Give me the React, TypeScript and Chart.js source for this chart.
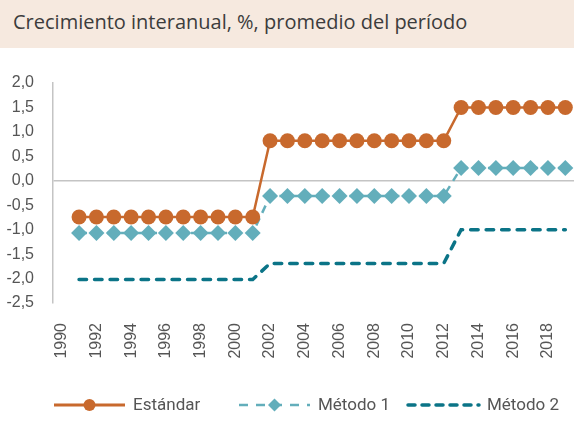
import React, { useEffect, useRef } from "react";
import { Chart, registerables } from "chart.js";

Chart.register(...registerables);

const years: string[] = [];
for (let y = 1990; y <= 2019; y++) years.push(String(y));

const estandar: (number | null)[] = [
  null,
  -0.74, -0.74, -0.74, -0.74, -0.74, -0.74, -0.74, -0.74, -0.74, -0.74, -0.74,
  0.82, 0.82, 0.82, 0.82, 0.82, 0.82, 0.82, 0.82, 0.82, 0.82, 0.82,
  1.5, 1.5, 1.5, 1.5, 1.5, 1.5, 1.5,
];
const metodo1: (number | null)[] = [
  null,
  -1.07, -1.07, -1.07, -1.07, -1.07, -1.07, -1.07, -1.07, -1.07, -1.07, -1.07,
  -0.31, -0.31, -0.31, -0.31, -0.31, -0.31, -0.31, -0.31, -0.31, -0.31, -0.31,
  0.26, 0.26, 0.26, 0.26, 0.26, 0.26, 0.26,
];
const metodo2: (number | null)[] = [
  null,
  -2.02, -2.02, -2.02, -2.02, -2.02, -2.02, -2.02, -2.02, -2.02, -2.02, -2.02,
  -1.69, -1.69, -1.69, -1.69, -1.69, -1.69, -1.69, -1.69, -1.69, -1.69, -1.69,
  -1.0, -1.0, -1.0, -1.0, -1.0, -1.0, -1.0,
];

const seriesNames = ["Estándar", "Método 1", "Método 2"];
const title = "Crecimiento interanual, %, promedio del período";

const C_ORANGE = "#c8692d";
const C_LIGHT = "#63aebb";
const C_DARK = "#0b7487";

const legendPlugin = {
  id: "customLegend",
  afterDraw(chart: any) {
    const ctx = chart.ctx;
    const y = 357;
    const starts = [54, 239, 408];
    const lineLen = 71;
    ctx.save();
    chart.data.datasets.forEach((ds: any, i: number) => {
      const x0 = starts[i];
      ctx.strokeStyle = ds.borderColor;
      ctx.lineWidth = i === 2 ? 3.5 : i === 1 ? 2.5 : 3;
      ctx.lineCap = i === 2 ? "round" : "butt";
      ctx.setLineDash(i === 0 ? [] : i === 1 ? [9, 8] : [7, 7]);
      ctx.beginPath();
      ctx.moveTo(x0, y);
      ctx.lineTo(x0 + lineLen, y);
      ctx.stroke();
      ctx.setLineDash([]);
      const cx = x0 + lineLen / 2;
      ctx.fillStyle = ds.pointBackgroundColor;
      if (i === 0) {
        ctx.beginPath();
        ctx.arc(cx, y, 6, 0, Math.PI * 2);
        ctx.fill();
      } else if (i === 1) {
        ctx.beginPath();
        ctx.moveTo(cx - 6.5, y);
        ctx.lineTo(cx, y - 6.5);
        ctx.lineTo(cx + 6.5, y);
        ctx.lineTo(cx, y + 6.5);
        ctx.closePath();
        ctx.fill();
      }
      ctx.fillStyle = "#555555";
      ctx.font = "17px Roboto";
      ctx.textBaseline = "middle";
      ctx.textAlign = "left";
      ctx.fillText(ds.label, x0 + lineLen + 8, y + 1);
    });
    ctx.restore();
  },
};

export default function App() {
  const ref = useRef<HTMLCanvasElement | null>(null);
  useEffect(() => {
    document.body.style.margin = "0";
    if (!ref.current) return;
    const chart = new Chart(ref.current, {
      type: "line",
      data: {
        labels: years,
        datasets: [
          {
            label: seriesNames[0],
            data: estandar,
            borderColor: C_ORANGE,
            backgroundColor: C_ORANGE,
            pointBackgroundColor: C_ORANGE,
            pointBorderWidth: 0,
            borderWidth: 2.5,
            pointStyle: "circle",
            pointRadius: 7.5,
            pointHoverRadius: 7.5,
          },
          {
            label: seriesNames[1],
            data: metodo1,
            borderColor: C_LIGHT,
            backgroundColor: C_LIGHT,
            pointBackgroundColor: C_LIGHT,
            pointBorderWidth: 0,
            borderWidth: 2.5,
            borderDash: [8, 6],
            pointStyle: "rectRot",
            pointRadius: 8,
            pointHoverRadius: 8,
          },
          {
            label: seriesNames[2],
            data: metodo2,
            borderColor: C_DARK,
            backgroundColor: C_DARK,
            pointBackgroundColor: C_DARK,
            borderWidth: 3.5,
            borderDash: [7.5, 8],
            borderCapStyle: "round",
            pointRadius: 0,
            pointHoverRadius: 0,
          },
        ],
      },
      options: {
        animation: false,
        responsive: false,
        layout: { autoPadding: false, padding: { top: 35, left: 0, right: 0, bottom: 66 } },
        plugins: { legend: { display: false }, tooltip: { enabled: false } },
        scales: {
          x: {
            offset: true,
            grid: { display: false, drawTicks: false },
            border: { display: false },
            afterFit(scale: any) {
              scale.height = 70;
              scale.paddingLeft = 0;
              scale.paddingRight = 0;
            },
            ticks: {
              autoSkip: false,
              minRotation: 90,
              maxRotation: 90,
              padding: 20,
              color: "#555555",
              font: { family: "Liberation Sans", size: 16 },
              callback: (_v: any, i: number) => (i % 2 === 0 ? years[i] : ""),
            },
          },
          y: {
            min: -2.5,
            max: 2.0,
            afterFit(scale: any) {
              scale.width = 53;
              scale.paddingTop = 0;
              scale.paddingBottom = 0;
            },
            grid: {
              drawTicks: false,
              color: (c: any) => (c.tick && c.tick.value === 0 ? "#c4c4c4" : "rgba(0,0,0,0)"),
              lineWidth: 1.5,
            },
            border: { display: true, color: "#c4c4c4", width: 1.5 },
            ticks: {
              stepSize: 0.5,
              padding: 19,
              color: "#555555",
              font: { family: "Liberation Sans", size: 16 },
              callback: (v: any) => Number(v).toFixed(1).replace(".", ","),
            },
          },
        },
      },
      plugins: [legendPlugin],
    });
    return () => chart.destroy();
  }, []);

  return (
    <div style={{ position: "fixed", left: 0, top: 0, width: 574, height: 439, background: "#fff" }}>
      <div
        style={{
          height: 48,
          background: "#f6e9df",
          color: "#3c3c3c",
          fontFamily: "'Open Sans', sans-serif",
          fontSize: 20,
          lineHeight: "44px",
          paddingLeft: 13,
          boxSizing: "border-box",
          whiteSpace: "nowrap",
        }}
      >
        {title}
      </div>
      <canvas ref={ref} width={574} height={391} style={{ display: "block" }} />
    </div>
  );
}
